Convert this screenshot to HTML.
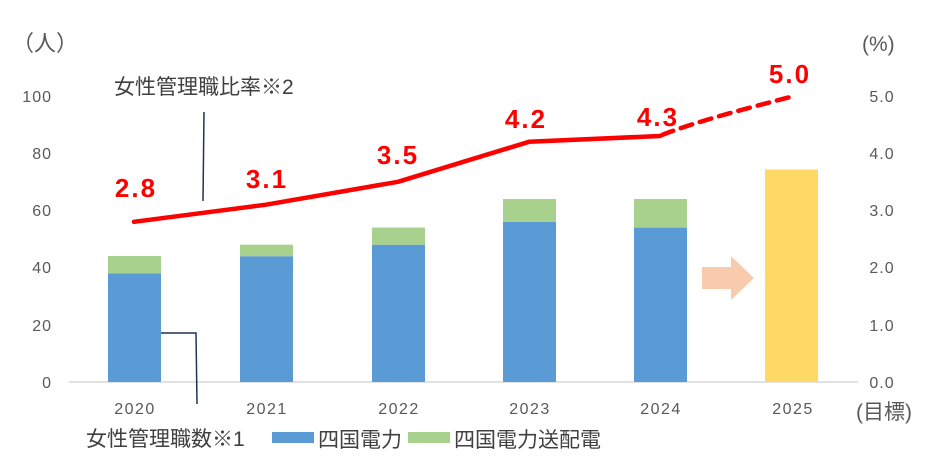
<!DOCTYPE html>
<html><head><meta charset="utf-8"><style>
html,body{margin:0;padding:0;background:#fff;}
svg{display:block;}
text{font-family:"Liberation Sans","Noto Sans CJK JP",sans-serif;}
</style></head><body>
<svg width="936" height="470" viewBox="0 0 936 470" xmlns="http://www.w3.org/2000/svg">
<g fill="#595959" font-size="16" letter-spacing="1">
<text x="52" y="102" text-anchor="end">100</text>
<text x="52" y="159" text-anchor="end">80</text>
<text x="52" y="216" text-anchor="end">60</text>
<text x="52" y="273" text-anchor="end">40</text>
<text x="52" y="331" text-anchor="end">20</text>
<text x="52" y="388" text-anchor="end">0</text>
<text x="882" y="102" text-anchor="middle">5.0</text>
<text x="882" y="159" text-anchor="middle">4.0</text>
<text x="882" y="216" text-anchor="middle">3.0</text>
<text x="882" y="273" text-anchor="middle">2.0</text>
<text x="882" y="331" text-anchor="middle">1.0</text>
<text x="882" y="388" text-anchor="middle">0.0</text>
</g>
<g fill="#595959" font-size="16" letter-spacing="1.5">
<text x="135" y="414" text-anchor="middle">2020</text>
<text x="267" y="414" text-anchor="middle">2021</text>
<text x="399" y="414" text-anchor="middle">2022</text>
<text x="530" y="414" text-anchor="middle">2023</text>
<text x="661" y="414" text-anchor="middle">2024</text>
<text x="793" y="414" text-anchor="middle">2025</text>
</g>
<text x="12" y="51" font-size="22" fill="#595959">（人）</text>
<text x="862" y="51" font-size="21" fill="#595959">(%)</text>
<text x="856" y="419" font-size="21" fill="#595959">(目標)</text>
<line x1="69" y1="382" x2="858" y2="382" stroke="#d9d9d9" stroke-width="1.5"/>
<rect x="108" y="273.3" width="53" height="108.7" fill="#5b9bd5"/>
<rect x="108" y="256" width="53" height="17.3" fill="#a9d18e"/>
<rect x="240" y="256.2" width="53" height="125.8" fill="#5b9bd5"/>
<rect x="240" y="244.7" width="53" height="11.5" fill="#a9d18e"/>
<rect x="372" y="244.7" width="53" height="137.3" fill="#5b9bd5"/>
<rect x="372" y="227.6" width="53" height="17.1" fill="#a9d18e"/>
<rect x="503" y="221.8" width="53" height="160.2" fill="#5b9bd5"/>
<rect x="503" y="199" width="53" height="22.8" fill="#a9d18e"/>
<rect x="634" y="227.6" width="53" height="154.4" fill="#5b9bd5"/>
<rect x="634" y="199" width="53" height="28.6" fill="#a9d18e"/>
<rect x="765" y="169.5" width="53" height="212.5" fill="#ffd966"/>
<polygon points="702,267 731,267 731,256 754,278 731,300 731,289 702,289" fill="#f8cbad"/>
<line x1="204" y1="112" x2="203" y2="201" stroke="#1f3550" stroke-width="1.5"/>
<polyline points="161,333 196,333 197,404" fill="none" stroke="#1f3550" stroke-width="1.5"/>
<path d="M134,221.8 L266,204.7 L398,181.8 L529,141.8 L660,136" fill="none" stroke="#ff0000" stroke-width="4.5" stroke-linejoin="round" stroke-linecap="round"/>
<path d="M662,135 C700,120 760,105 794,96" fill="none" stroke="#ff0000" stroke-width="4.5" stroke-dasharray="12,8" stroke-linecap="round"/>
<g fill="#ff0000" font-size="26" font-weight="bold" letter-spacing="2">
<text x="136" y="197" text-anchor="middle">2.8</text>
<text x="267" y="188" text-anchor="middle">3.1</text>
<text x="398" y="164" text-anchor="middle">3.5</text>
<text x="526" y="128" text-anchor="middle">4.2</text>
<text x="658" y="126" text-anchor="middle">4.3</text>
<text x="790" y="83" text-anchor="middle">5.0</text>
</g>
<text x="114" y="94" font-size="21" fill="#404040">女性管理職比率※2</text>
<text x="86" y="446" font-size="21" fill="#404040">女性管理職数※1</text>
<rect x="272" y="432" width="42" height="11" fill="#5b9bd5"/>
<text x="318" y="447" font-size="21" fill="#404040">四国電力</text>
<rect x="408" y="432" width="42" height="11" fill="#a9d18e"/>
<text x="454" y="447" font-size="21" fill="#404040">四国電力送配電</text>
</svg>
</body></html>
